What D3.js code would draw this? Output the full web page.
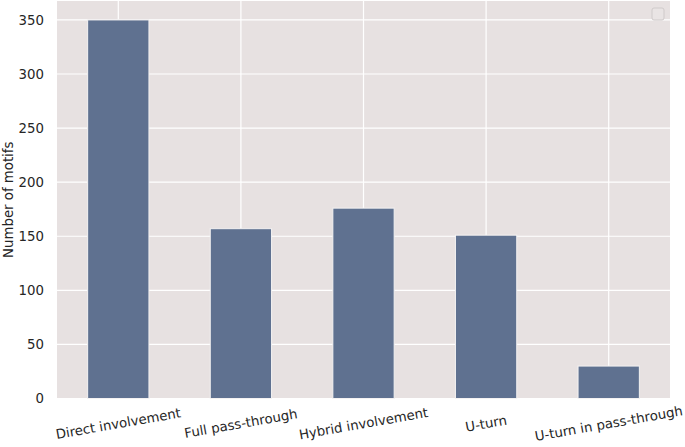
<!DOCTYPE html>
<html>
<head>
<meta charset="utf-8">
<script src="https://cdn.jsdelivr.net/npm/d3@7"></script>
<style>
  body { margin: 0; background: #fff; }
  text { font-family: "DejaVu Sans", sans-serif; }
</style>
</head>
<body>
<div id="chart"></div>
<script>
// Chart data
var categories = ["Direct involvement", "Full pass-through", "Hybrid involvement", "U-turn", "U-turn in pass-through"];
var motifCounts = [350, 157, 176, 151, 30];
var yTicks = [0, 50, 100, 150, 200, 250, 300, 350];

var width = 685, height = 447;
var margin = { top: 1, right: 15, bottom: 48.5, left: 57 };
var fontSize = 13.3;

var svg = d3.select("#chart").append("svg")
  .attr("width", width)
  .attr("height", height);

var x = d3.scaleBand()
  .domain(categories)
  .range([margin.left, width - margin.right])
  .paddingInner(0.5)
  .paddingOuter(0.25);

var y = d3.scaleLinear()
  .domain([0, 367.5])
  .range([height - margin.bottom, margin.top]);

// Plot background
svg.append("rect")
  .attr("x", margin.left)
  .attr("y", margin.top)
  .attr("width", width - margin.left - margin.right)
  .attr("height", height - margin.top - margin.bottom)
  .attr("fill", "#e7e1e1");

// Grid lines
svg.append("g")
  .selectAll("line")
  .data(yTicks)
  .join("line")
  .attr("x1", margin.left)
  .attr("x2", width - margin.right)
  .attr("y1", d => y(d))
  .attr("y2", d => y(d))
  .attr("stroke", "#fff")
  .attr("stroke-width", 1.2);

svg.append("g")
  .selectAll("line")
  .data(categories)
  .join("line")
  .attr("x1", d => x(d) + x.bandwidth() / 2)
  .attr("x2", d => x(d) + x.bandwidth() / 2)
  .attr("y1", margin.top)
  .attr("y2", height - margin.bottom)
  .attr("stroke", "#fff")
  .attr("stroke-width", 1.2);

// Bars
svg.append("g")
  .selectAll("rect")
  .data(motifCounts)
  .join("rect")
  .attr("x", (d, i) => x(categories[i]))
  .attr("y", d => y(d))
  .attr("width", x.bandwidth())
  .attr("height", d => y(0) - y(d))
  .attr("fill", "#5f7190")
  .attr("stroke", "#f4f2f2")
  .attr("stroke-width", 1);

// Y tick labels
svg.append("g")
  .selectAll("text")
  .data(yTicks)
  .join("text")
  .attr("x", margin.left - 13)
  .attr("y", d => y(d))
  .attr("dy", "0.35em")
  .attr("text-anchor", "end")
  .attr("font-size", fontSize)
  .attr("fill", "#262626")
  .text(d => d);

// X tick labels, rotated
svg.append("g")
  .selectAll("text")
  .data(categories)
  .join("text")
  .attr("transform", d => `translate(${x(d) + x.bandwidth() / 2},${y(0) + 25}) rotate(-10)`)
  .attr("dy", "0.35em")
  .attr("text-anchor", "middle")
  .attr("font-size", fontSize)
  .attr("fill", "#262626")
  .text(d => d);

// Y axis label
svg.append("text")
  .attr("transform", `translate(13,${(margin.top + height - margin.bottom) / 2}) rotate(-90)`)
  .attr("text-anchor", "middle")
  .attr("font-size", fontSize)
  .attr("fill", "#262626")
  .text("Number of motifs");

// Empty legend box
svg.append("rect")
  .attr("x", 652)
  .attr("y", 8)
  .attr("width", 12)
  .attr("height", 12)
  .attr("rx", 2)
  .attr("fill", "#e9e4e4")
  .attr("stroke", "#cfcaca")
  .attr("stroke-width", 1);
</script>
</body>
</html>
